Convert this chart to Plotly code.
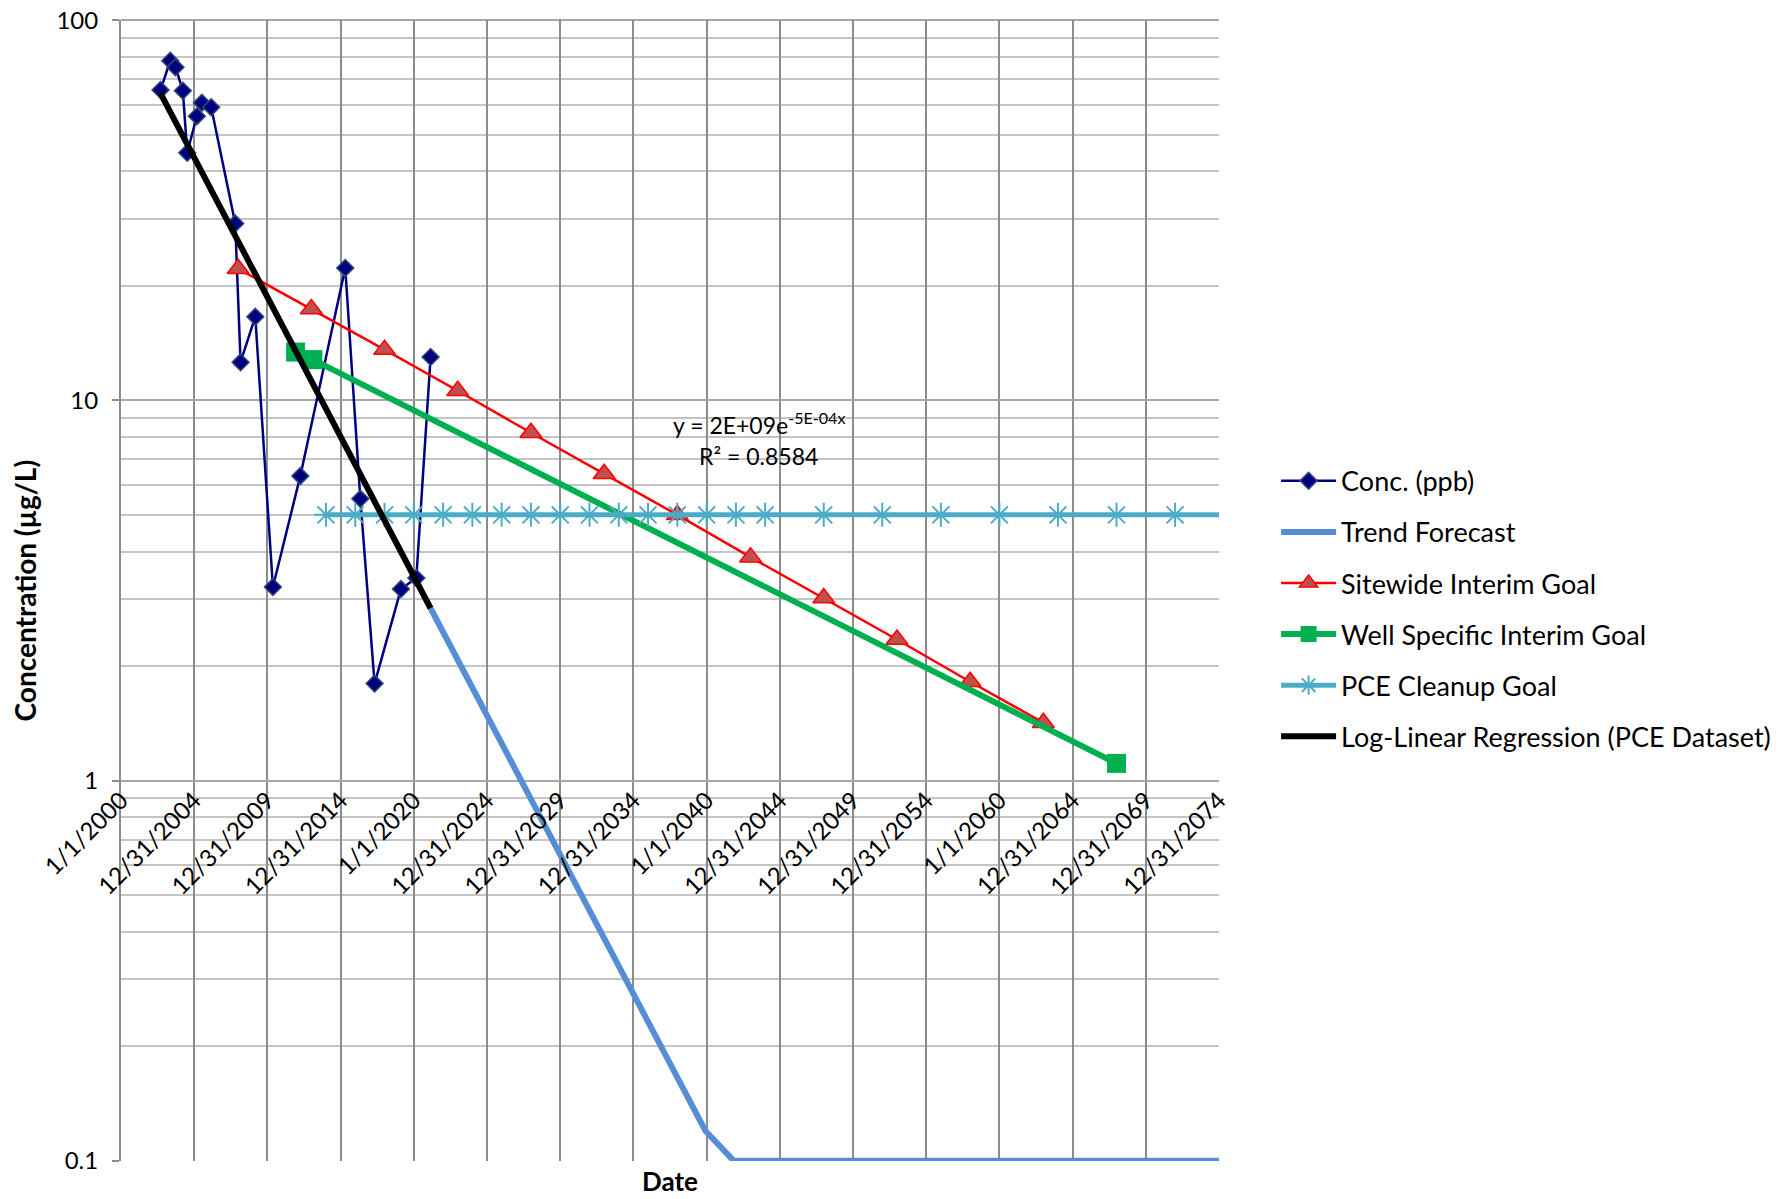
import pandas as pd
import plotly.graph_objects as go

# ---------------- data ----------------
conc_dates = ["2002-09-13", "2003-05-13", "2003-09-22", "2004-03-23", "2004-07-10",
              "2005-03-07", "2005-07-10", "2006-03-01", "2007-10-21", "2008-03-02",
              "2009-03-04", "2010-05-18", "2012-04-01", "2015-04-27", "2016-05-07",
              "2017-04-28", "2019-02-14", "2020-03-04", "2021-02-23"]
conc_values = [65.5, 78.2, 75.2, 65.2, 44.8, 55.9, 60.6, 59.0, 29.2, 12.6,
               16.6, 3.23, 6.33, 22.3, 5.51, 1.80, 3.19, 3.41, 13.0]

trend_dates = ["2021-02-23", "2039-12-01", "2041-11-09", "2076-01-01"]
trend_values = [2.84, 0.12, 0.1, 0.1]

sitewide_dates = ["2008-01-01", "2013-01-01", "2018-01-01", "2023-01-01", "2028-01-01",
                  "2033-01-01", "2038-01-01", "2043-01-01", "2048-01-01", "2053-01-01",
                  "2058-01-01", "2063-01-01"]
sitewide_values = [22.2, 17.4, 13.6, 10.6, 8.22, 6.41, 5.0, 3.87, 3.02, 2.35, 1.82, 1.42]

well_dates = ["2011-12-05", "2013-02-08", "2068-01-01"]
well_values = [13.4, 12.8, 1.11]

cleanup_dates = ["2014-01-01", "2016-01-01", "2018-01-01", "2020-01-01", "2022-01-01",
                 "2024-01-01", "2026-01-01", "2028-01-01", "2030-01-01", "2032-01-01",
                 "2034-01-01", "2036-01-01", "2038-01-01", "2040-01-01", "2042-01-01",
                 "2044-01-01", "2048-01-01", "2052-01-01", "2056-01-01", "2060-01-01",
                 "2064-01-01", "2068-01-01", "2072-01-01", "2076-01-01"]
cleanup_values = [5, 5, 5, 5, 5, 5, 5, 5, 5, 5, 5, 5, 5, 5, 5, 5, 5, 5, 5, 5, 5, 5, 5, 5]

regression_dates = ["2002-09-13", "2021-02-23"]
regression_values = [64.2, 2.84]

x_tick_labels = ["1/1/2000", "12/31/2004", "12/31/2009", "12/31/2014", "1/1/2020",
                 "12/31/2024", "12/31/2029", "12/31/2034", "1/1/2040", "12/31/2044",
                 "12/31/2049", "12/31/2054", "1/1/2060", "12/31/2064", "12/31/2069",
                 "12/31/2074"]
y_tick_values = [0.1, 1, 10, 100]
y_tick_labels = ["0.1", "1", "10", "100"]

# ---------------- figure ----------------
FONT = "Lato"
fig = go.Figure()

fig.add_trace(go.Scatter(
    x=conc_dates, y=conc_values, name="Conc. (ppb)", mode="lines+markers",
    line=dict(color="#000080", width=2.5),
    marker=dict(symbol="diamond", size=13, color="#00007F",
                line=dict(color="#2E4A7D", width=1.5)),
    legendgroup="a"))

fig.add_trace(go.Scatter(
    x=trend_dates, y=trend_values, name="Trend Forecast", mode="lines",
    line=dict(color="#558ED5", width=6), legendgroup="b"))

fig.add_trace(go.Scatter(
    x=sitewide_dates, y=sitewide_values, name="Sitewide Interim Goal", mode="lines+markers",
    line=dict(color="#FF0000", width=2.5),
    marker=dict(symbol="triangle-up", size=19, color="#C0504D",
                line=dict(color="#FF0000", width=1.5)),
    legendgroup="c"))

fig.add_trace(go.Scatter(
    x=well_dates, y=well_values, name="Well Specific Interim Goal", mode="lines+markers",
    line=dict(color="#00B050", width=6),
    marker=dict(symbol="square", size=19, color="#00B050",
                line=dict(color="#00B050", width=0)),
    legendgroup="d"))

fig.add_trace(go.Scatter(
    x=cleanup_dates, y=cleanup_values, name="PCE Cleanup Goal", mode="lines+markers",
    line=dict(color="#4BACC6", width=5),
    marker=dict(symbol="asterisk-open", size=20, color="#4BACC6",
                line=dict(color="#4BACC6", width=2)),
    legendgroup="e"))

fig.add_trace(go.Scatter(
    x=regression_dates, y=regression_values, name="Log-Linear Regression (PCE Dataset)",
    mode="lines", line=dict(color="#000000", width=6), legendgroup="f"))

x_tick_vals = pd.to_datetime(x_tick_labels, format="%m/%d/%Y")

minor_vals = [m * 10 ** e for e in (-1, 0, 1) for m in range(2, 10)]

# body margin is removed below; plot area target (page px): x 121..1219, y 20..1161
fig.update_layout(
    width=1790, height=1199,
    margin=dict(l=121, r=571, t=20, b=38, autoexpand=False),
    paper_bgcolor="white", plot_bgcolor="white",
    font=dict(family=FONT, size=24, color="#000000"),
    showlegend=True,
    legend=dict(x=1.052, y=0.484, xanchor="left", yanchor="middle",
                traceorder="grouped", tracegroupgap=13,
                font=dict(family=FONT, size=27), itemwidth=55,
                bgcolor="rgba(0,0,0,0)"),
    xaxis=dict(
        type="date", range=["2000-01-01", "2074-12-31 18:00"],
        tickmode="array", tickvals=x_tick_vals, ticktext=x_tick_labels,
        tickangle=-45, tickfont=dict(family=FONT, size=24),
        ticklabeloverflow="allow",
        showgrid=True, gridcolor="#8C8C8C", gridwidth=2,
        showline=False, zeroline=False, ticks="",
        anchor="free", position=1 / 3),
    yaxis=dict(
        type="log", range=[-1.0004, 2.0004],
        tickmode="array", tickvals=y_tick_values, ticktext=y_tick_labels,
        tickfont=dict(family=FONT, size=24),
        ticklabeloverflow="allow",
        ticks="outside", ticklen=7, tickcolor="#8C8C8C", tickwidth=2,
        ticklabelstandoff=9,
        showgrid=True, gridcolor="#A6A6A6", gridwidth=2,
        minor=dict(tickmode="array", tickvals=minor_vals, showgrid=True,
                   gridcolor="#C4C4C4", gridwidth=2, ticks=""),
        showline=True, linecolor="#8C8C8C", linewidth=2, zeroline=False),
    shapes=[
        dict(type="line", xref="paper", yref="paper", x0=0, x1=1, y0=1, y1=1,
             line=dict(color="#A6A6A6", width=2), layer="below"),
    ],
    annotations=[
        dict(text="<b>Concentration (µg/L)</b>", xref="paper", yref="paper",
             x=-0.0875, y=0.5, textangle=-90, showarrow=False,
             font=dict(family=FONT, size=28), xanchor="center", yanchor="middle"),
        dict(text="<b>Date</b>", xref="paper", yref="paper",
             x=0.5, y=-0.0175, showarrow=False,
             font=dict(family=FONT, size=26), xanchor="center", yanchor="middle"),
        dict(text="y = 2E+09e<sup>-5E-04x</sup>", xref="paper", yref="paper",
             x=0.581, y=0.646, showarrow=False,
             font=dict(family=FONT, size=23), xanchor="center", yanchor="middle"),
        dict(text="R² = 0.8584", xref="paper", yref="paper",
             x=0.581, y=0.618, showarrow=False,
             font=dict(family=FONT, size=23), xanchor="center", yanchor="middle"),
    ],
)

fig.write_html("out.html", config={"displayModeBar": False},
               post_script="document.body.style.margin='0';document.body.style.overflow='hidden';")
